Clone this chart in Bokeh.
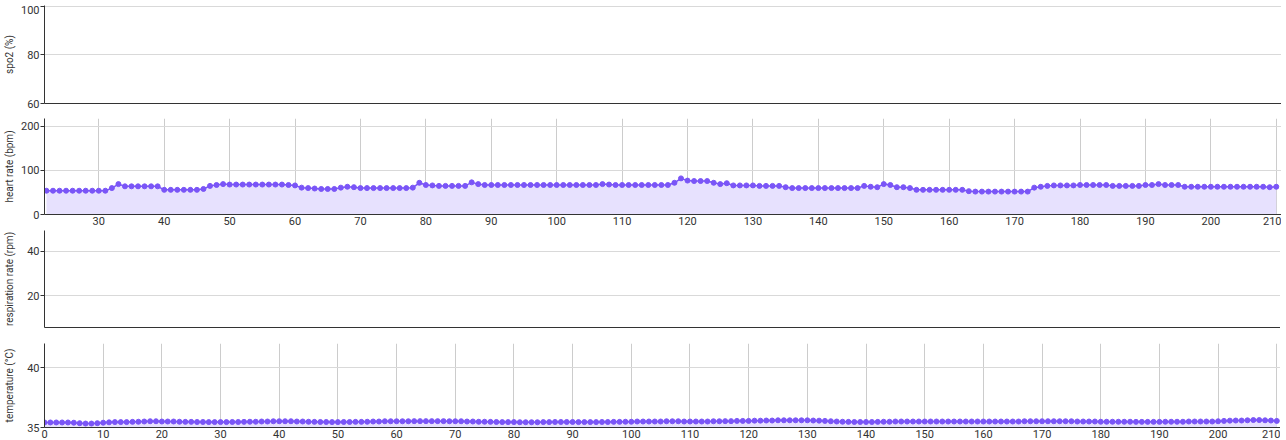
from bokeh.plotting import figure
from bokeh.layouts import column
from bokeh.models import FixedTicker, Range1d
from bokeh.embed import file_html
from bokeh.resources import INLINE

# ---------------- data ----------------
spo2_ticks = [60, 80, 100]
resp_ticks = [20, 40]
hr_ticks_y = [0, 100, 200]
temp_ticks_y = [35, 40]
hr_ticks_x = [30, 40, 50, 60, 70, 80, 90, 100, 110, 120, 130, 140, 150, 160,
              170, 180, 190, 200, 210]
temp_ticks_x = [0, 10, 20, 30, 40, 50, 60, 70, 80, 90, 100, 110, 120, 130, 140,
                150, 160, 170, 180, 190, 200, 210]

hr_time = list(range(22, 211))
hr_bpm = [
    54, 54, 54, 54, 54, 54, 54, 54,                      # 22-29
    54, 54, 60, 69, 64, 64, 64, 64, 64, 64,              # 30-39
    56, 56, 56, 56, 56, 56, 58, 65, 67, 69,              # 40-49
    68, 68, 68, 68, 68, 68, 68, 68, 68, 67,              # 50-59
    66, 61, 60, 59, 58, 58, 58, 61, 63, 62,              # 60-69
    60, 60, 60, 60, 60, 60, 60, 60, 61, 72,              # 70-79
    67, 66, 65, 65, 65, 65, 65, 73, 69, 67,              # 80-89
    67, 67, 67, 67, 67, 67, 67, 67, 67, 67,              # 90-99
    67, 67, 67, 67, 67, 67, 67, 69, 68, 67,              # 100-109
    67, 67, 67, 67, 67, 67, 67, 67, 72, 82,              # 110-119
    77, 76, 76, 76, 72, 69, 71, 66, 66, 66,              # 120-129
    66, 65, 65, 65, 65, 62, 60, 60, 60, 60,              # 130-139
    60, 60, 60, 60, 60, 60, 60, 65, 63, 62,              # 140-149
    69, 67, 62, 62, 60, 56, 56, 56, 56, 56,              # 150-159
    56, 56, 56, 53, 52, 52, 52, 52, 52, 52,              # 160-169
    52, 52, 52, 61, 63, 65, 66, 66, 66, 66,              # 170-179
    67, 67, 67, 67, 67, 65, 65, 65, 65, 65,              # 180-189
    67, 67, 69, 67, 67, 67, 63, 63, 63, 63,              # 190-199
    63, 63, 63, 63, 63, 63, 63, 63, 63, 62, 63,          # 200-210
]

temp_time = list(range(0, 211))
temp_c = [
    35.42, 35.42, 35.42, 35.42, 35.42, 35.40, 35.36, 35.33, 35.33, 35.36,   # 0-9
    35.40, 35.43, 35.45, 35.45, 35.45, 35.47, 35.48, 35.50, 35.52, 35.52,   # 10-19
    35.50, 35.50, 35.50, 35.48, 35.47, 35.47, 35.46, 35.46, 35.45, 35.45,   # 20-29
    35.45, 35.45, 35.46, 35.46, 35.47, 35.48, 35.48, 35.50, 35.50, 35.52,   # 30-39
    35.52, 35.52, 35.52, 35.50, 35.50, 35.48, 35.47, 35.46, 35.46, 35.45,   # 40-49
    35.45, 35.46, 35.46, 35.47, 35.47, 35.48, 35.50, 35.50, 35.52, 35.52,   # 50-59
    35.52, 35.52, 35.52, 35.53, 35.53, 35.53, 35.53, 35.53, 35.53, 35.52,   # 60-69
    35.52, 35.52, 35.50, 35.50, 35.48, 35.48, 35.47, 35.46, 35.45, 35.45,   # 70-79
    35.45, 35.44, 35.44, 35.44, 35.44, 35.45, 35.45, 35.46, 35.46, 35.46,   # 80-89
    35.46, 35.45, 35.45, 35.45, 35.45, 35.46, 35.46, 35.47, 35.47, 35.48,   # 90-99
    35.48, 35.50, 35.50, 35.50, 35.50, 35.50, 35.52, 35.52, 35.52, 35.50,   # 100-109
    35.50, 35.50, 35.50, 35.50, 35.52, 35.52, 35.53, 35.53, 35.55, 35.55,   # 110-119
    35.55, 35.57, 35.57, 35.58, 35.58, 35.60, 35.60, 35.60, 35.60, 35.60,   # 120-129
    35.60, 35.58, 35.57, 35.55, 35.52, 35.50, 35.48, 35.47, 35.46, 35.46,   # 130-139
    35.46, 35.46, 35.47, 35.48, 35.48, 35.50, 35.50, 35.50, 35.50, 35.50,   # 140-149
    35.50, 35.50, 35.50, 35.50, 35.50, 35.50, 35.50, 35.50, 35.50, 35.50,   # 150-159
    35.50, 35.50, 35.50, 35.50, 35.50, 35.50, 35.50, 35.52, 35.52, 35.52,   # 160-169
    35.52, 35.52, 35.52, 35.52, 35.52, 35.52, 35.50, 35.50, 35.50, 35.50,   # 170-179
    35.48, 35.48, 35.48, 35.48, 35.48, 35.48, 35.47, 35.47, 35.47, 35.47,   # 180-189
    35.47, 35.48, 35.48, 35.48, 35.48, 35.50, 35.50, 35.50, 35.50, 35.50,   # 190-199
    35.52, 35.55, 35.57, 35.58, 35.58, 35.60, 35.62, 35.62, 35.60, 35.58,   # 200-209
    35.55,                                                                  # 210
]

# ---------------- style ----------------
FONT = "Roboto"
LINE = "#7a55f7"
FILL = "#e7e1fe"
GRID = "#d9d9d9"
AXIS = "#333333"
TEXT = "#333333"
FRAME_W = 1237
LEFT = 37


def make_fig(frame_h, xr, yr, yticks, ylabel, xticks, bottom, ylab_standoff,
             xgrid=True):
    p = figure(frame_width=FRAME_W, frame_height=frame_h, x_range=xr,
               y_range=yr, output_backend="svg", toolbar_location=None,
               min_border_left=LEFT, min_border_right=0, min_border_top=0,
               min_border_bottom=bottom)
    p.outline_line_color = None
    p.background_fill_color = "white"
    p.border_fill_color = "white"

    ya = p.yaxis[0]
    ya.ticker = FixedTicker(ticks=yticks)
    ya.axis_label = ylabel
    ya.axis_label_text_font = FONT
    ya.axis_label_text_font_size = "10px"
    ya.axis_label_text_font_style = "normal"
    ya.axis_label_text_color = TEXT
    ya.axis_label_standoff = ylab_standoff
    ya.major_label_text_font = FONT
    ya.major_label_text_font_size = "11px"
    ya.major_label_text_color = TEXT
    ya.major_label_standoff = 1
    ya.major_tick_out = 4
    ya.major_tick_in = 0
    ya.minor_tick_line_color = None
    ya.axis_line_color = AXIS
    ya.major_tick_line_color = AXIS

    xa = p.xaxis[0]
    xa.ticker = FixedTicker(ticks=xticks)
    xa.major_label_text_font = FONT
    xa.major_label_text_font_size = "11px"
    xa.major_label_text_color = TEXT
    xa.major_label_standoff = 2
    xa.major_tick_out = 0
    xa.major_tick_in = 0
    xa.minor_tick_line_color = None
    xa.axis_line_color = AXIS

    p.ygrid.ticker = FixedTicker(ticks=yticks)
    p.ygrid.grid_line_color = GRID
    if xgrid:
        p.xgrid.ticker = FixedTicker(ticks=xticks)
        p.xgrid.grid_line_color = "#cccccc"
    else:
        p.xgrid.visible = False
    return p


def add_series(p, t, v, base):
    p.varea(x=t, y1=[base] * len(t), y2=v, fill_color=FILL, fill_alpha=1.0)
    p.line(t, v, line_color=LINE, line_width=1.5)
    p.scatter(t, v, size=5, fill_color=LINE, line_color=LINE)


p1 = make_fig(98, Range1d(21.7, 210.8), Range1d(60, 100.4), spo2_ticks,
              "spo2 (%)", [], 15, 3, xgrid=False)

p2 = make_fig(96, Range1d(21.7, 210.8), Range1d(0, 218), hr_ticks_y,
              "heart rate (bpm)", hr_ticks_x, 16, 3)
add_series(p2, hr_time, hr_bpm, 0)

p3 = make_fig(97, Range1d(21.7, 210.8), Range1d(5.6, 49.5), resp_ticks,
              "respiration rate (rpm)", [], 16, 9, xgrid=False)

p4 = make_fig(84, Range1d(0, 210.8), Range1d(35, 42), temp_ticks_y,
              "temperature (°C)", temp_ticks_x, 13, 9)
add_series(p4, temp_time, temp_c, 35)

layout = column(p1, p2, p3, p4, spacing=0, margin=(5, -8, -8, 0))

open("out.html", "w").write(file_html(layout, INLINE))
